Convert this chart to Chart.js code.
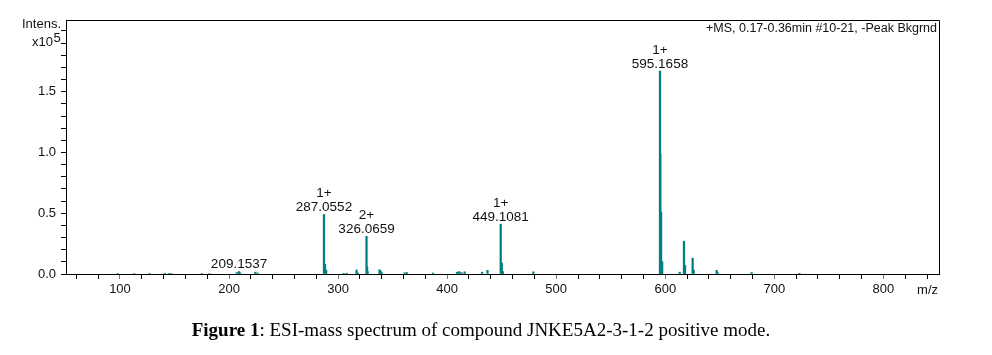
<!DOCTYPE html>
<html><head><meta charset="utf-8">
<script src="https://cdn.jsdelivr.net/npm/chart.js@4.4.0/dist/chart.umd.min.js"></script>
<style>
html,body{margin:0;padding:0;background:#fff;}
#wrap{position:relative;width:992px;height:355px;overflow:hidden;}
canvas{position:absolute;left:0;top:0;}
#caption{position:absolute;left:0;width:962px;top:319px;text-align:center;font-family:"Liberation Serif","Times New Roman",serif;font-size:19px;color:#000;line-height:22px;white-space:nowrap;}
</style></head><body>
<div id="wrap"><canvas id="c" width="992" height="355"></canvas>
<div id="caption"><b>Figure 1</b>: ESI-mass spectrum of compound JNKE5A2-3-1-2 positive mode.</div></div>
<script>
// m/z of each stick and its intensity (x10^5)
const mzValues = [98.0, 113.0, 127.0, 141.0, 145.0, 147.0, 175.0, 182.0,
  207.1, 209.1537, 210.1, 224.1, 226.1,
  287.0552, 288.06, 289.06, 305.0, 308.0, 316.9, 318.0,
  326.0659, 326.57, 327.07, 338.0, 339.0, 340.0, 361.0, 363.0, 387.0,
  409.0, 411.0, 413.0, 416.0, 432.0, 437.0,
  449.1081, 450.11, 451.1, 479.0,
  595.1658, 595.45, 596.17, 597.17,
  613.2, 617.15, 618.15, 625.1, 626.1, 647.1, 648.1, 679.1, 723.0];
const intensities = [0.005, 0.004, 0.005, 0.006, 0.004, 0.004, 0.004, 0.004,
  0.012, 0.02, 0.01, 0.015, 0.008,
  0.49, 0.08, 0.03, 0.006, 0.006, 0.033, 0.008,
  0.31, 0.06, 0.02, 0.035, 0.025, 0.01, 0.01, 0.012, 0.008,
  0.015, 0.02, 0.012, 0.018, 0.015, 0.03,
  0.41, 0.09, 0.02, 0.018,
  1.67, 0.99, 0.51, 0.10,
  0.015, 0.27, 0.07, 0.13, 0.03, 0.03, 0.01, 0.012, 0.006];
// annotated peaks
const peakLabelMz = [209.1537, 287.0552, 326.0659, 449.1081, 595.1658];
const peakLabelText = ['209.1537', '287.0552', '326.0659', '449.1081', '595.1658'];
const peakLabelCharge = ['', '1+', '2+', '1+', '1+'];
// tick labels
const xTickLabels = [100, 200, 300, 400, 500, 600, 700, 800];
const yTickLabels = [0.0, 0.5, 1.0, 1.5];

const FONT = '"Liberation Sans", Arial, sans-serif';

const extrasPlugin = {
  id: 'extras',
  afterDraw(chart) {
    const {ctx, chartArea: a, scales} = chart;
    ctx.save();
    // frame top/right
    ctx.strokeStyle = '#000';
    ctx.lineWidth = 1;
    ctx.beginPath();
    ctx.moveTo(Math.round(a.left) + 0.5, Math.round(a.top) + 0.5);
    ctx.lineTo(Math.round(a.right) + 0.5, Math.round(a.top) + 0.5);
    ctx.lineTo(Math.round(a.right) + 0.5, Math.round(a.bottom) + 0.5);
    ctx.stroke();
    // peak labels
    ctx.fillStyle = '#111';
    ctx.font = '13.5px ' + FONT;
    ctx.textAlign = 'center';
    ctx.textBaseline = 'middle';
    peakLabelMz.forEach((mz, i) => {
      let idx = mzValues.findIndex(m => Math.abs(m - mz) < 0.001);
      const h = intensities[idx];
      const x = scales.x.getPixelForValue(mz);
      const y = scales.y.getPixelForValue(h);
      ctx.fillText(peakLabelText[i], x, y - 7);
      if (peakLabelCharge[i]) ctx.fillText(peakLabelCharge[i], x, y - 21);
    });
    // header text
    ctx.font = '12.5px ' + FONT;
    ctx.textAlign = 'right';
    ctx.fillText('+MS, 0.17-0.36min #10-21, -Peak Bkgrnd', a.right - 2, a.top + 9);
    // axis titles
    ctx.font = '13px ' + FONT;
    ctx.fillText('Intens.', 61, 24);
    ctx.fillText('x10', 53, 42);
    ctx.textAlign = 'left';
    ctx.fillText('5', 53.5, 38);
    ctx.textAlign = 'right';
    ctx.fillText('m/z', 938, 290);
    ctx.restore();
  }
};

new Chart(document.getElementById('c'), {
  type: 'bar',
  data: {
    datasets: [{
      data: mzValues.map((m, i) => ({x: m, y: intensities[i]})),
      backgroundColor: 'rgb(0,128,128)',
      borderWidth: 0,
      barThickness: 1.6
    }]
  },
  options: {
    responsive: false,
    animation: false,
    devicePixelRatio: 1,
    layout: {padding: {left: 0, top: 20, right: 53, bottom: 51}},
    plugins: {legend: {display: false}, tooltip: {enabled: false}},
    scales: {
      x: {
        type: 'linear',
        min: 50.5, max: 851,
        offset: false,
        grid: {offset: false, drawOnChartArea: false, tickLength: 5,
          tickColor: (c) => (c.tick && c.tick.value % 100 === 0) ? '#7a7a7a' : '#000'},
        border: {color: '#000', width: 1},
        ticks: {
          stepSize: 20, includeBounds: false, autoSkip: false, maxRotation: 0,
          padding: 3, color: '#111', font: {family: FONT, size: 13},
          callback: (v) => xTickLabels.includes(v) ? String(v) : ''
        },
        afterFit: (s) => { s.height = 30; }
      },
      y: {
        min: 0, max: 2.09,
        grid: {drawOnChartArea: false, tickLength: 5, tickColor: '#000'},
        border: {color: '#000', width: 1},
        ticks: {
          stepSize: 0.1, includeBounds: false, autoSkip: false,
          padding: 5, color: '#111', font: {family: FONT, size: 13},
          callback: (v) => { const r = Math.round(v * 10) / 10; return yTickLabels.includes(r) ? r.toFixed(1) : ''; }
        },
        afterFit: (s) => { s.width = 66; }
      }
    }
  },
  plugins: [extrasPlugin]
});
</script>
</body></html>
